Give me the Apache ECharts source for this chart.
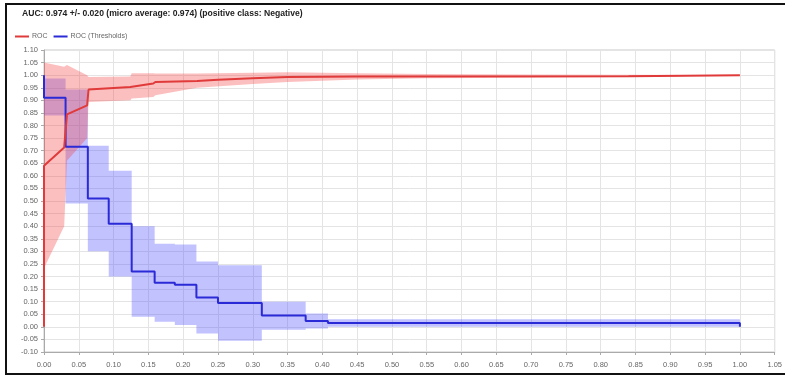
<!DOCTYPE html>
<html><head><meta charset="utf-8">
<script src="https://cdn.jsdelivr.net/npm/echarts@6/dist/echarts.min.js"></script>
<style>html,body{margin:0;padding:0;background:#fff}#c{width:785px;height:377px}</style>
</head><body><div id="c"></div>
<script>
const titleText = 'AUC: 0.974 +/- 0.020 (micro average: 0.974) (positive class: Negative)';
const seriesNames = ['ROC', 'ROC (Thresholds)'];

// ROC mean curve
const rocX = [0, 0, 0.029, 0.033, 0.062, 0.064, 0.124, 0.126, 0.157, 0.16, 0.22, 0.25, 0.3, 0.35, 0.45, 0.84, 0.842, 1.0];
const rocY = [0, 0.64, 0.713, 0.844, 0.88, 0.943, 0.953, 0.96, 0.967, 0.973, 0.977, 0.982, 0.988, 0.993, 0.995, 0.996, 1.0, 1.0];
// ROC std band
const rocBandX = [0, 0.029, 0.033, 0.062, 0.064, 0.124, 0.126, 0.157, 0.16, 0.22, 0.3, 0.35, 0.45, 0.55, 0.7, 0.84, 1.0];
const rocBandHigh = [1.05, 1.033, 1.04, 1.0, 0.993, 0.995, 1.008, 1.008, 1.007, 1.007, 1.01, 1.012, 1.008, 1.005, 1.003, 1.002, 1.0];
const rocBandLow = [0.233, 0.40, 0.66, 0.75, 0.893, 0.90, 0.907, 0.913, 0.92, 0.95, 0.965, 0.973, 0.983, 0.988, 0.99, 0.993, 1.0];

// Thresholds curve (step segments)
const thrEdges = [0, 0.031, 0.063, 0.093, 0.126, 0.159, 0.188, 0.219, 0.25, 0.313, 0.376, 0.408, 1.0];
const thrMean = [0.91, 0.716, 0.51, 0.41, 0.22, 0.175, 0.167, 0.117, 0.095, 0.045, 0.023, 0.015];
const thrLow = [0.84, 0.49, 0.30, 0.20, 0.04, 0.02, 0.007, -0.026, -0.055, -0.012, -0.007, 0.0];
const thrHigh = [0.987, 0.943, 0.72, 0.62, 0.40, 0.33, 0.327, 0.26, 0.245, 0.10, 0.053, 0.03];
const thrStart = 1.0;
const thrEnd = 0.0;

function stepPoints(vals) {
  const pts = [];
  for (let i = 0; i < vals.length; i++) {
    pts.push([thrEdges[i], vals[i]]);
    pts.push([thrEdges[i + 1], vals[i]]);
  }
  return pts;
}
const thrLine = [[0, thrStart]].concat(stepPoints(thrMean)).concat([[thrEdges[thrEdges.length - 1], thrEnd]]);
const thrLowPts = stepPoints(thrLow);
const thrHighPts = stepPoints(thrHigh);
const thrBandData = thrLowPts.map((p, i) => [p[0], p[1], thrHighPts[i][1]]);
const rocLine = rocX.map((x, i) => [x, rocY[i]]);
const rocBandData = rocBandX.map((x, i) => [x, rocBandLow[i], rocBandHigh[i]]);

const RED = '#e03a3a', BLUE = '#2a2ad6';

function bandSeries(name, data, fill) {
  return {
    name: name, type: 'custom', silent: true, clip: true, data: data,
    encode: { x: 0, y: [1, 2] },
    renderItem: function (params, api) {
      if (params.dataIndex !== 0) return null;
      const upper = data.map(d => api.coord([d[0], d[2]]));
      const lower = data.map(d => api.coord([d[0], d[1]])).reverse();
      return { type: 'polygon', shape: { points: upper.concat(lower) }, style: { fill: fill } };
    }
  };
}

const chart = echarts.init(document.getElementById('c'), null, { renderer: 'canvas' });
chart.setOption({
  animation: false,
  backgroundColor: '#fff',
  textStyle: { fontFamily: 'Liberation Sans, Arial, sans-serif' },
  title: { text: titleText, left: 17, top: 4, textStyle: { fontSize: 8.6, fontWeight: 'bold', color: '#222', fontFamily: 'Liberation Sans, Arial, sans-serif' } },
  legend: {
    data: seriesNames, left: 10, top: 28, itemWidth: 14, itemHeight: 2, itemGap: 6, icon: 'rect',
    textStyle: { fontSize: 7, color: '#666', padding: [0, 0, 0, -2] }
  },
  graphic: [{ type: 'rect', shape: { x: 6, y: 4, width: 900, height: 370 }, style: { fill: 'none', stroke: '#111', lineWidth: 2 }, silent: true }],
  grid: { left: 44, right: 6, top: 50, bottom: 25, show: true, borderColor: '#c8c8c8', borderWidth: 1 },
  xAxis: {
    type: 'value', min: 0, max: 1.05, interval: 0.05,
    axisLine: { onZero: false, lineStyle: { color: '#aaa' } },
    axisTick: { show: true, length: 3, lineStyle: { color: '#aaa' } },
    axisLabel: { fontSize: 7.5, color: '#666', margin: 9, formatter: v => v.toFixed(2) },
    splitLine: { show: true, lineStyle: { color: '#e4e4e4' } }
  },
  yAxis: {
    type: 'value', min: -0.1, max: 1.1, interval: 0.05,
    axisLine: { show: true, onZero: false, lineStyle: { color: '#aaa' } },
    axisTick: { show: true, length: 3, lineStyle: { color: '#aaa' } },
    axisLabel: { fontSize: 7.5, color: '#666', margin: 6, formatter: v => v.toFixed(2) },
    splitLine: { show: true, lineStyle: { color: '#e4e4e4' } }
  },
  series: [
    bandSeries('thrBand', thrBandData, 'rgba(70,70,255,0.33)'),
    bandSeries('rocBand', rocBandData, 'rgba(245,60,60,0.33)'),
    { name: seriesNames[1], type: 'line', symbol: 'none', data: thrLine, itemStyle: { color: BLUE }, lineStyle: { color: BLUE, width: 2 } },
    { name: seriesNames[0], type: 'line', symbol: 'none', data: rocLine, itemStyle: { color: RED }, lineStyle: { color: RED, width: 2 } }
  ]
});
</script></body></html>
